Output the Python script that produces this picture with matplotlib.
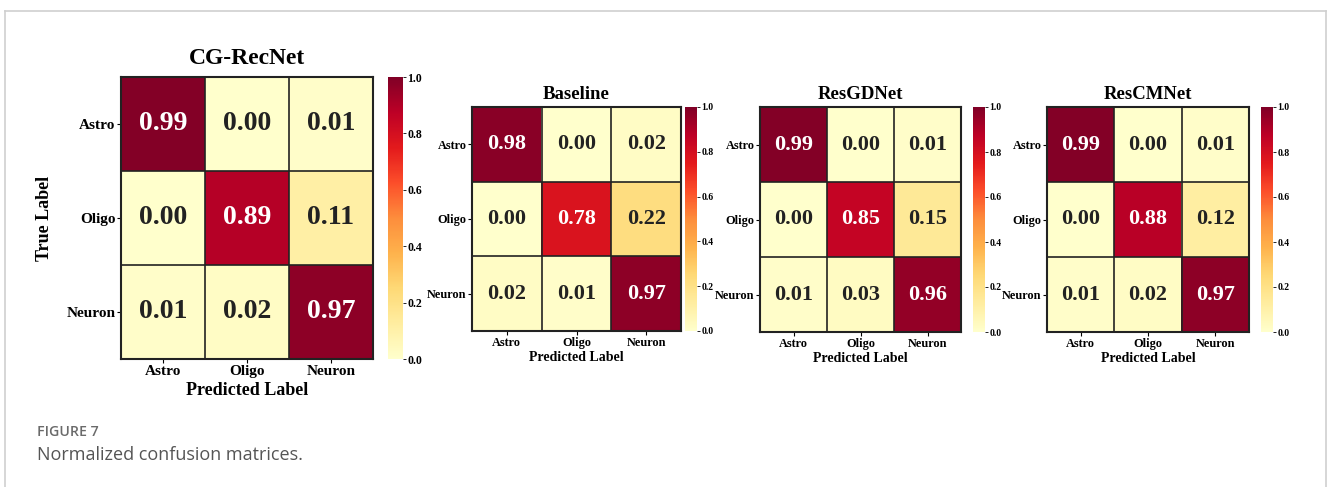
import numpy as np
import matplotlib
matplotlib.use('Agg')
import matplotlib.pyplot as plt
from matplotlib.lines import Line2D

plt.rcParams['font.family'] = ['Liberation Serif', 'DejaVu Serif']
plt.rcParams['font.weight'] = 'bold'

# class names and normalized confusion matrices (rows = true, cols = predicted)
labels = ['Astro', 'Oligo', 'Neuron']
cg_recnet = [[0.99, 0.00, 0.01],
             [0.00, 0.89, 0.11],
             [0.01, 0.02, 0.97]]
baseline = [[0.98, 0.00, 0.02],
            [0.00, 0.78, 0.22],
            [0.02, 0.01, 0.97]]
resgdnet = [[0.99, 0.00, 0.01],
            [0.00, 0.85, 0.15],
            [0.01, 0.03, 0.96]]
rescmnet = [[0.99, 0.00, 0.01],
            [0.00, 0.88, 0.12],
            [0.01, 0.02, 0.97]]
cbar_ticks = [0.0, 0.2, 0.4, 0.6, 0.8, 1.0]

W, H = 1328, 487
fig = plt.figure(figsize=(W / 100, H / 100), dpi=100)


def box(x0, y0, x1, y1):
    # pixel box -> figure fraction [left, bottom, width, height]
    return [x0 / W, 1 - y1 / H, (x1 - x0) / W, (y1 - y0) / H]


def draw_cm(cm, title, heat_box, cbar_box, big=False):
    cm = np.array(cm)
    ax = fig.add_axes(box(*heat_box))
    cax = fig.add_axes(box(*cbar_box))
    im = ax.imshow(cm, cmap='YlOrRd', vmin=0, vmax=1, aspect='auto')

    vsize = 20 if big else 16
    tsize = 11 if big else 8.8
    for i in range(cm.shape[0]):
        for j in range(cm.shape[1]):
            v = cm[i, j]
            ax.text(j, i, '%.2f' % v, ha='center', va='center',
                    fontsize=vsize, fontweight='bold',
                    color='white' if v > 0.5 else '#222222')

    # cell borders
    ax.set_xticks(np.arange(-0.5, 3, 1), minor=True)
    ax.set_yticks(np.arange(-0.5, 3, 1), minor=True)
    ax.grid(which='minor', color='#222222', linewidth=1.2)
    ax.tick_params(which='minor', length=0)
    ax.set_xticks(range(3))
    ax.set_yticks(range(3))
    ax.set_xticklabels(labels, fontsize=tsize, fontweight='bold')
    ax.set_yticklabels(labels, fontsize=tsize, fontweight='bold')
    ax.tick_params(which='major', length=3, width=0.8, pad=1)
    for s in ax.spines.values():
        s.set_linewidth(1.5)
        s.set_color('#222222')

    ax.set_title(title, fontsize=17 if big else 13.5, fontweight='bold',
                 pad=9 if big else 6)
    ax.set_xlabel('Predicted Label', fontsize=13 if big else 10,
                  fontweight='bold', labelpad=3 if big else 2)
    if big:
        ax.set_ylabel('True Label', fontsize=13, fontweight='bold', labelpad=10)

    cb = fig.colorbar(im, cax=cax, ticks=cbar_ticks)
    cb.outline.set_visible(False)
    cb.ax.tick_params(labelsize=8.5 if big else 7, length=2, width=0.6, pad=1)
    cb.ax.set_yticklabels(['%.1f' % t for t in cbar_ticks], fontweight='bold')


draw_cm(cg_recnet, 'CG-RecNet', (121, 77, 373, 359), (388, 77, 403, 359), big=True)
draw_cm(baseline, 'Baseline', (472, 107, 681, 331), (685, 107, 697, 331))
draw_cm(resgdnet, 'ResGDNet', (760, 107, 961, 332), (973, 107, 985, 332))
draw_cm(rescmnet, 'ResCMNet', (1047, 107, 1249, 332), (1261, 107, 1273, 332))

# frame around the figure panel
frame_c = '#cfcfcf'
fig.add_artist(Line2D([5 / W, 5 / W], [0, 1 - 11 / H], color=frame_c, lw=1.2))
fig.add_artist(Line2D([5 / W, 1326 / W], [1 - 11 / H, 1 - 11 / H], color=frame_c, lw=1.2))
fig.add_artist(Line2D([1326 / W, 1326 / W], [0, 1 - 11 / H], color=frame_c, lw=1.2))

# caption
fig.text(37 / W, 1 - 432 / H, 'FIGURE 7', fontsize=10.2, color='#6a6a6a',
         family=['Open Sans', 'DejaVu Sans'], fontweight='semibold', va='center')
fig.text(37 / W, 1 - 455 / H, 'Normalized confusion matrices.', fontsize=13,
         color='#555555', family=['Open Sans', 'DejaVu Sans'],
         fontweight='normal', va='center')

fig.savefig('out.png', dpi=100)
